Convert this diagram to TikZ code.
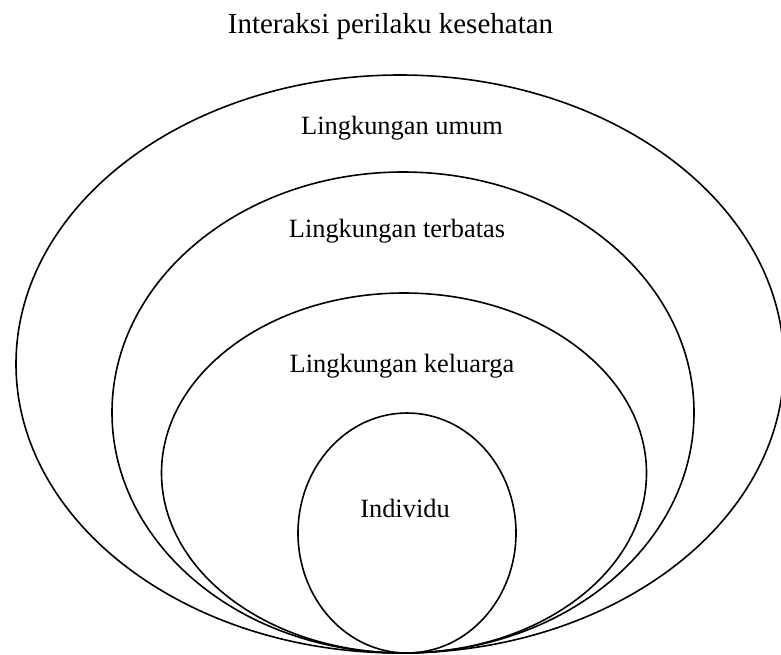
\documentclass[tikz,border=0pt]{standalone}
\usepackage{fontspec}
\setmainfont{Liberation Serif}
\tikzset{
  ring/.style={line width=1.6pt, draw=black},
  lbl/.style={font=\fontsize{26.4}{30}\selectfont, anchor=base, inner sep=0pt},
  ttl/.style={font=\fontsize{29}{33}\selectfont, anchor=base, inner sep=0pt}
}
\begin{document}
\begin{tikzpicture}[x=1pt,y=-1pt]
\useasboundingbox (0,0) rectangle (781,654);
\fill[white] (0,0) rectangle (781,654);
\draw[ring] (400,364) ellipse [x radius=384, y radius=289];
\draw[ring] (403,412.5) ellipse [x radius=291, y radius=240.5];
\draw[ring] (404,473) ellipse [x radius=242.5, y radius=180];
\draw[ring] (407,533) ellipse [x radius=109, y radius=120];
\node[ttl] (title) at (390.5,33) {Interaksi perilaku kesehatan};
\node[lbl] (umum) at (402,134) {Lingkungan umum};
\node[lbl] (terbatas) at (397,237) {Lingkungan terbatas};
\node[lbl] (keluarga) at (402,372) {Lingkungan keluarga};
\node[lbl] (individu) at (405,517) {Individu};
\end{tikzpicture}
\end{document}
